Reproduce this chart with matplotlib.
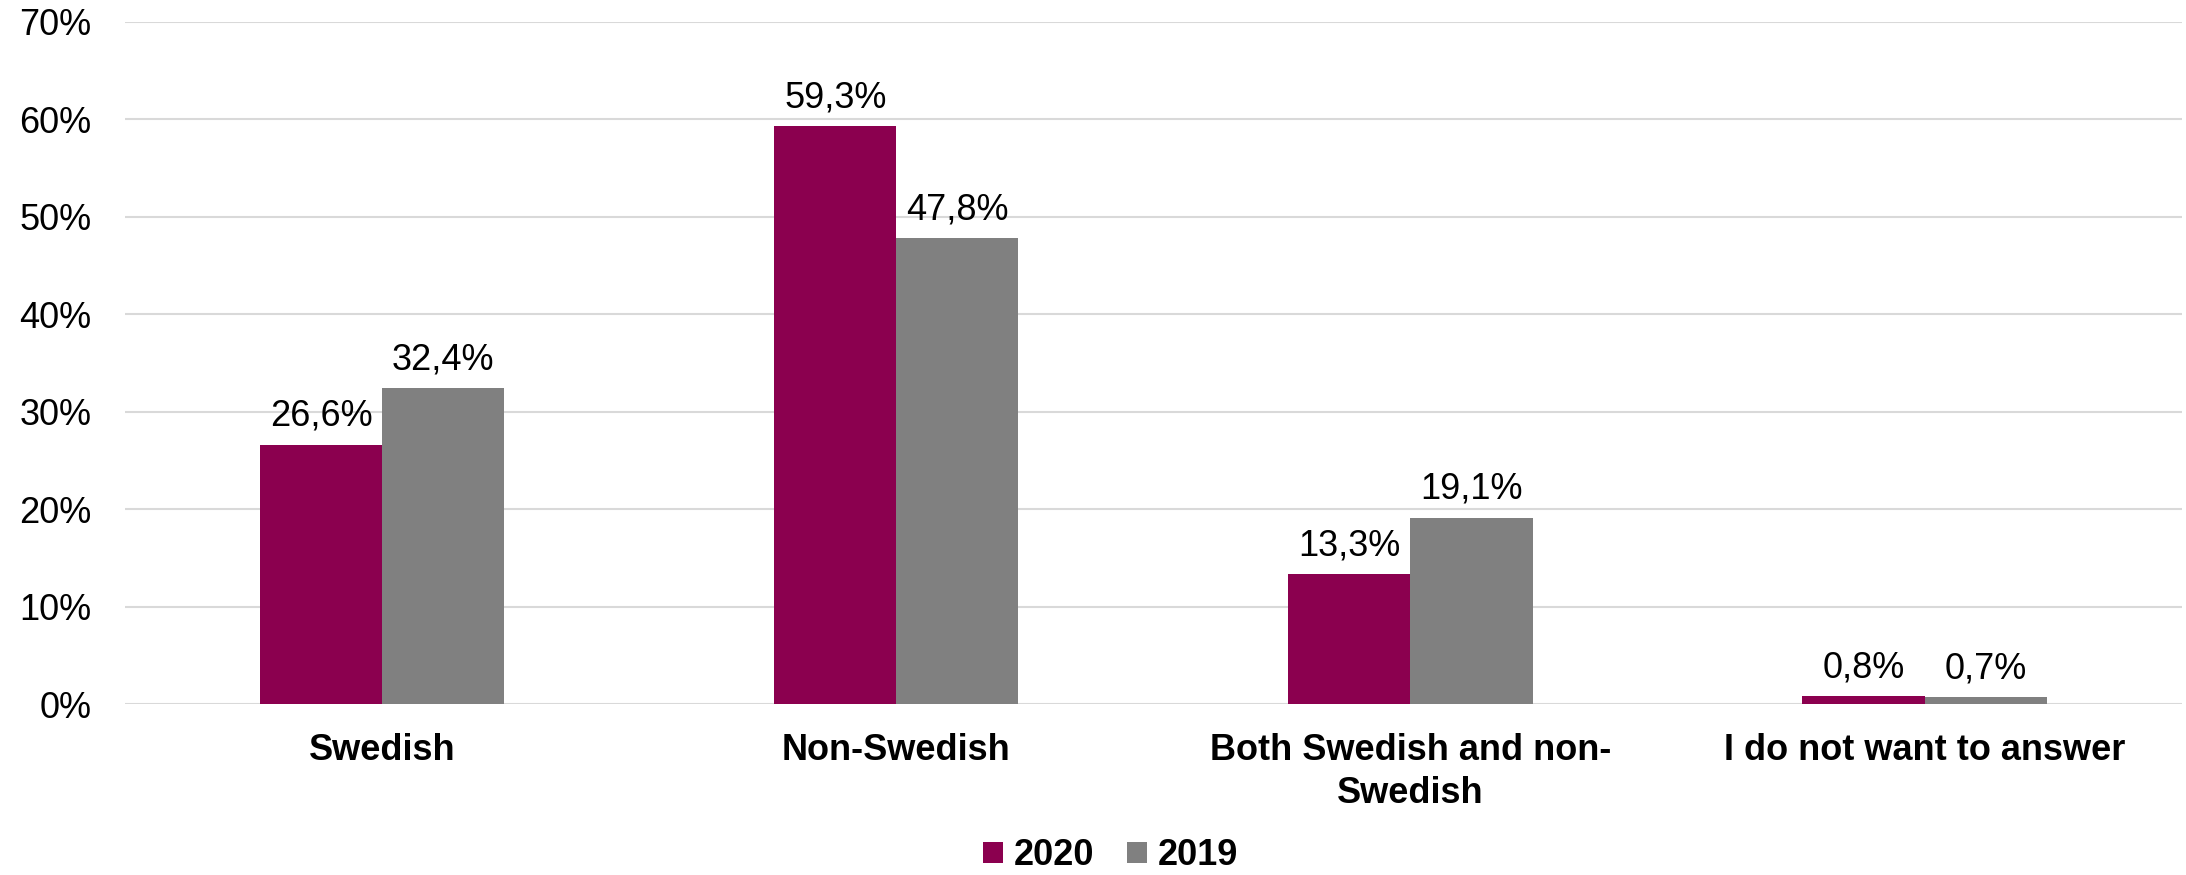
import matplotlib.pyplot as plt
import numpy as np

categories = ["Swedish", "Non-Swedish", "Both Swedish and non-\nSwedish", "I do not want to answer"]
years = ["2020", "2019"]
values_2020 = [26.6, 59.3, 13.3, 0.8]
values_2019 = [32.4, 47.8, 19.1, 0.7]
colors = ["#8B004F", "#808080"]

plt.rcParams['font.family'] = ['Liberation Sans', 'DejaVu Sans']
fs = 26

fig = plt.figure(figsize=(21.86, 8.75), dpi=100)
ax = fig.add_axes([0.0572, 0.1954, 0.9408, 0.7795])

x = np.arange(len(categories))
w = 0.2375
series = [values_2020, values_2019]
for i, vals in enumerate(series):
    pos = x + (i - 0.5) * w
    bars = ax.bar(pos, vals, width=w, color=colors[i], label=years[i], zorder=3)
    for b, v in zip(bars, vals):
        ax.annotate(f"{v:.1f}%".replace(".", ","), (b.get_x() + b.get_width() / 2, v),
                    xytext=(0, 8), textcoords="offset points",
                    ha="center", va="bottom", fontsize=fs)

ax.set_xlim(-0.5, len(categories) - 0.5)
ax.set_ylim(0, 70)
ax.set_yticks(range(0, 71, 10))
ax.set_yticklabels([f"{t}%" for t in range(0, 71, 10)], fontsize=fs)
ax.set_xticks(x)
ax.set_xticklabels(categories, fontsize=fs, fontweight="bold", linespacing=1.3)
ax.tick_params(axis="both", length=0)
ax.tick_params(axis="y", pad=24)
ax.tick_params(axis="x", pad=21)
ax.grid(axis="y", color="#D9D9D9", linewidth=1.5, zorder=0)
for s in ax.spines.values():
    s.set_visible(False)

fig.legend(loc="center", bbox_to_anchor=(0.508, 0.022), ncol=2, frameon=False,
           prop={"size": fs, "weight": "bold"}, handlelength=0.55, handleheight=0.55,
           handletextpad=0.3, columnspacing=0.9, borderpad=0.2)

fig.savefig("out.png", dpi=100)
